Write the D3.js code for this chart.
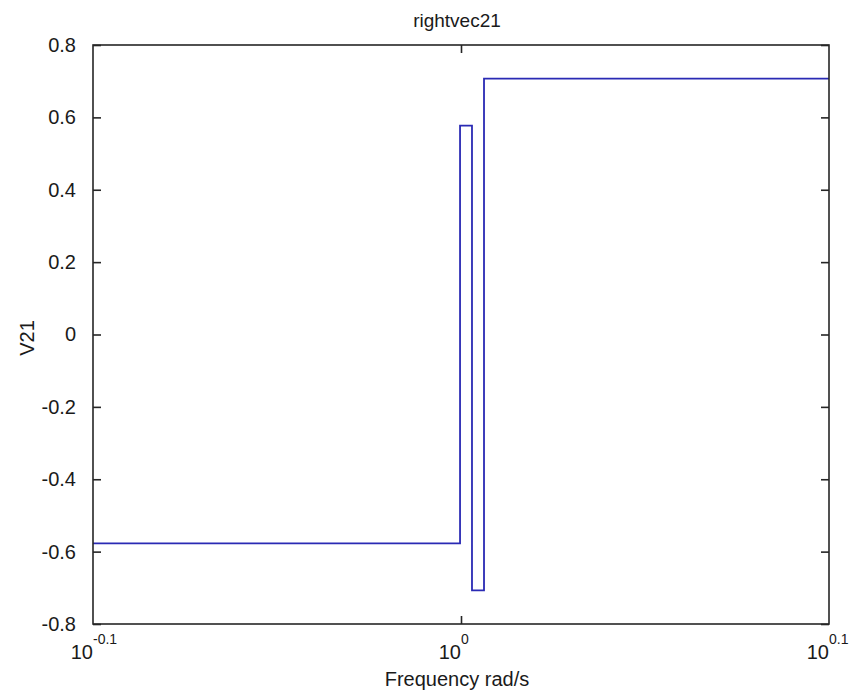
<!DOCTYPE html>
<html>
<head>
<meta charset="utf-8">
<script src="https://cdn.jsdelivr.net/npm/d3@7"></script>
<style>
  html, body { margin: 0; padding: 0; background: #fff; }
  svg { display: block; }
  text { font-family: "Liberation Sans", Arial, Helvetica, sans-serif; fill: #1a1a1a; }
</style>
</head>
<body>
<svg id="chart" width="855" height="698"></svg>
<script>
// ---- data ----
const title = "rightvec21";
const xLabel = "Frequency rad/s";
const yLabel = "V21";
// step breakpoints (frequency, rad/s) and the value held from each breakpoint to the next
const freqs = [0.7943, 0.9994, 1.0069, 1.0145, 1.2589];
const values = [-0.577, 0.577, -0.707, 0.707];
const xDomainExp = [-0.1, 0.1];
const xTickExps = [-0.1, 0, 0.1];
const yTicks = [-0.8, -0.6, -0.4, -0.2, 0, 0.2, 0.4, 0.6, 0.8];
const yTickLabels = ["-0.8", "-0.6", "-0.4", "-0.2", "0", "0.2", "0.4", "0.6", "0.8"];

// ---- layout ----
const svg = d3.select("#chart");
const L = 93, R = 829, T = 45, B = 624;
const x = d3.scaleLog().domain(xDomainExp.map(e => Math.pow(10, e))).range([L, R]);
const y = d3.scaleLinear().domain([-0.8, 0.8]).range([B, T]);
const axisColor = "#262626";
const tickLen = 8;

// line
const pts = values.map((v, i) => [freqs[i], v]);
pts.push([freqs[freqs.length - 1], values[values.length - 1]]);
const line = d3.line().x(d => x(d[0])).y(d => y(d[1])).curve(d3.curveStepAfter);
svg.append("path")
  .attr("d", line(pts))
  .attr("fill", "none")
  .attr("stroke", "#2a2ab4")
  .attr("stroke-width", 1.8);

// box
svg.append("rect")
  .attr("x", L).attr("y", T).attr("width", R - L).attr("height", B - T)
  .attr("fill", "none").attr("stroke", axisColor).attr("stroke-width", 1.6);

// y ticks (inside, both sides)
const yAxisL = d3.axisLeft(y).tickValues(yTicks).tickSize(-tickLen).tickPadding(tickLen + 9)
  .tickFormat((d, i) => yTickLabels[i]);
const gyl = svg.append("g").attr("transform", `translate(${L},0)`).call(yAxisL);
gyl.select(".domain").remove();
gyl.selectAll(".tick line").attr("stroke", axisColor).attr("stroke-width", 1.6);
gyl.selectAll(".tick text").attr("font-size", 20).attr("fill", "#1a1a1a")
  .style("font-family", '"Liberation Sans", Arial, sans-serif');
const yAxisR = d3.axisRight(y).tickValues(yTicks).tickSize(-tickLen).tickFormat("");
const gyr = svg.append("g").attr("transform", `translate(${R},0)`).call(yAxisR);
gyr.select(".domain").remove();
gyr.selectAll(".tick line").attr("stroke", axisColor).attr("stroke-width", 1.6);

// x ticks: only interior major tick at 10^0 is drawn as a tick mark
const innerTicks = xTickExps.filter(e => e > xDomainExp[0] && e < xDomainExp[1]).map(e => Math.pow(10, e));
const xAxisB = d3.axisBottom(x).tickValues(innerTicks).tickSize(-tickLen).tickFormat("");
const gxb = svg.append("g").attr("transform", `translate(0,${B})`).call(xAxisB);
gxb.select(".domain").remove();
gxb.selectAll(".tick line").attr("stroke", axisColor).attr("stroke-width", 1.6);
const xAxisT = d3.axisTop(x).tickValues(innerTicks).tickSize(-tickLen).tickFormat("");
const gxt = svg.append("g").attr("transform", `translate(0,${T})`).call(xAxisT);
gxt.select(".domain").remove();
gxt.selectAll(".tick line").attr("stroke", axisColor).attr("stroke-width", 1.6);

// x tick labels 10^e
xTickExps.forEach(e => {
  const px = x(Math.pow(10, e));
  const g = svg.append("g");
  const base = g.append("text").attr("y", 659).attr("font-size", 20).attr("text-anchor", "end")
    .attr("x", px).text("10");
  g.append("text").attr("x", px).attr("y", 644).attr("font-size", 14).attr("text-anchor", "start")
    .text(e === 0 ? "0" : String(e));
});

// title & labels
svg.append("text").attr("x", 457).attr("y", 27).attr("text-anchor", "middle")
  .attr("font-size", 19).text(title);
svg.append("text").attr("x", 457).attr("y", 686).attr("text-anchor", "middle")
  .attr("font-size", 20).text(xLabel);
svg.append("text").attr("transform", "translate(34,338) rotate(-90)").attr("text-anchor", "middle")
  .attr("font-size", 20).text(yLabel);
</script>
</body>
</html>
